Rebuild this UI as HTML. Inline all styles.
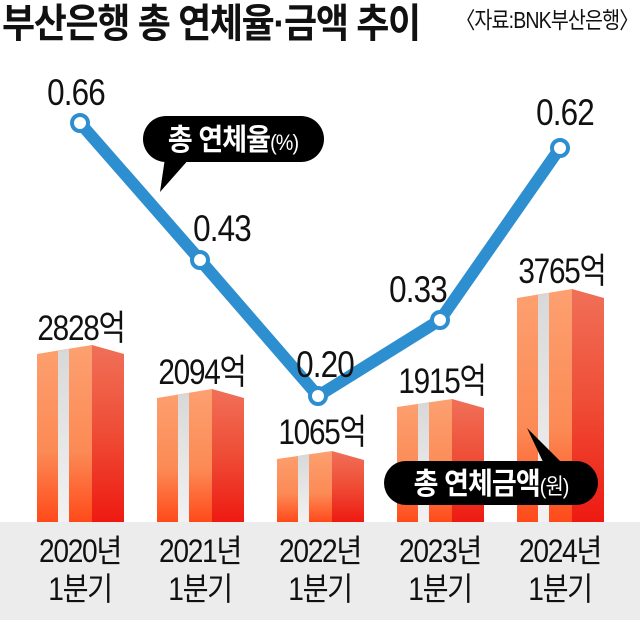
<!DOCTYPE html>
<html><head><meta charset="utf-8"><style>
html,body{margin:0;padding:0;background:#fff;}
svg{display:block;}
text{font-family:"Liberation Sans","Noto Sans CJK KR",sans-serif;}
</style></head><body>
<svg width="640" height="620" viewBox="0 0 640 620" xmlns="http://www.w3.org/2000/svg">
<defs>
<linearGradient id="gl" x1="0" y1="0" x2="0" y2="1"><stop offset="0" stop-color="#fda070"/><stop offset="0.6" stop-color="#fc8a55"/><stop offset="1" stop-color="#ff4a1a"/></linearGradient>
<linearGradient id="gr" x1="0" y1="0" x2="0" y2="1"><stop offset="0" stop-color="#f07058"/><stop offset="0.5" stop-color="#ef4c35"/><stop offset="1" stop-color="#ee1a12"/></linearGradient>
<linearGradient id="gs" x1="0" y1="0" x2="0" y2="1"><stop offset="0" stop-color="#d8d8d8"/><stop offset="1" stop-color="#f2f2f2"/></linearGradient>
</defs>
<text transform="translate(2,37) scale(0.9,1)" font-size="40" font-weight="bold" fill="#111" letter-spacing="-1.5">부산은행 총 연체율·금액 추이</text>
<text transform="translate(638,28) scale(0.85,1)" font-size="23" fill="#111" text-anchor="end" letter-spacing="-1">〈자료:BNK부산은행〉</text>
<rect x="0" y="522" width="640" height="98" fill="#ececec"/>
<g>
<polygon points="37,354 92,345 92,522 37,522" fill="url(#gl)"/><polygon points="92,345 124,354 124,522 92,522" fill="url(#gr)"/><polygon points="58,351 69,349 69,522 58,522" fill="url(#gs)"/>
<polygon points="157,398 212,389 212,522 157,522" fill="url(#gl)"/><polygon points="212,389 244,398 244,522 212,522" fill="url(#gr)"/><polygon points="178,395 189,393 189,522 178,522" fill="url(#gs)"/>
<polygon points="277,459 332,451 332,522 277,522" fill="url(#gl)"/><polygon points="332,451 364,460 364,522 332,522" fill="url(#gr)"/><polygon points="298,456 309,454 309,522 298,522" fill="url(#gs)"/>
<polygon points="397,407 452,399 452,522 397,522" fill="url(#gl)"/><polygon points="452,399 484,408 484,522 452,522" fill="url(#gr)"/><polygon points="418,404 429,402 429,522 418,522" fill="url(#gs)"/>
<polygon points="517,298 572,289 572,522 517,522" fill="url(#gl)"/><polygon points="572,289 604,298 604,522 572,522" fill="url(#gr)"/><polygon points="538,295 549,293 549,522 538,522" fill="url(#gs)"/>
</g>
<g font-size="35" fill="#111" text-anchor="middle" letter-spacing="-1.5">
<text transform="translate(81,340) scale(0.85,1)">2828억</text>
<text transform="translate(202,384) scale(0.85,1)">2094억</text>
<text transform="translate(322,444) scale(0.85,1)">1065억</text>
<text transform="translate(442,393) scale(0.85,1)">1915억</text>
<text transform="translate(562,283) scale(0.85,1)">3765억</text>
</g>
<polyline points="80,123 200,260 318,396 440,320 560,148" fill="none" stroke="#2e8fd0" stroke-width="12" stroke-linejoin="miter"/>
<g fill="#fff" stroke="#2e8fd0" stroke-width="4">
<circle cx="80" cy="123" r="8"/><circle cx="200" cy="260" r="8"/><circle cx="318" cy="396" r="8"/><circle cx="440" cy="320" r="8"/><circle cx="560" cy="148" r="8"/>
</g>
<g font-size="37" fill="#111" text-anchor="middle" letter-spacing="-1">
<text transform="translate(76,105) scale(0.85,1)">0.66</text>
<text transform="translate(222,241) scale(0.85,1)">0.43</text>
<text transform="translate(325,377) scale(0.85,1)">0.20</text>
<text transform="translate(418,302) scale(0.85,1)">0.33</text>
<text transform="translate(565,125) scale(0.85,1)">0.62</text>
</g>
<path d="M165,158 L160,192 L190,158 Z" fill="#000"/>
<rect x="143" y="116" width="181" height="46" rx="23" fill="#000"/>
<text transform="translate(233,150) scale(0.9,1)" font-size="30" fill="#fff" text-anchor="middle" font-weight="bold" letter-spacing="-1">총 연체율<tspan font-size="22" font-weight="normal">(%)</tspan></text>
<path d="M527,428 L545,466 L565,466 Z" fill="#000"/>
<rect x="384" y="461" width="214" height="44" rx="22" fill="#000"/>
<text transform="translate(491,494) scale(0.9,1)" font-size="30" fill="#fff" text-anchor="middle" font-weight="bold" letter-spacing="-1">총 연체금액<tspan font-size="22" font-weight="normal">(원)</tspan></text>
<g font-size="32" fill="#111" text-anchor="middle" letter-spacing="-1.5">
<text transform="translate(80,562) scale(0.88,1)">2020년</text><text transform="translate(80,600) scale(0.88,1)">1분기</text>
<text transform="translate(200,562) scale(0.88,1)">2021년</text><text transform="translate(200,600) scale(0.88,1)">1분기</text>
<text transform="translate(320,562) scale(0.88,1)">2022년</text><text transform="translate(320,600) scale(0.88,1)">1분기</text>
<text transform="translate(440,562) scale(0.88,1)">2023년</text><text transform="translate(440,600) scale(0.88,1)">1분기</text>
<text transform="translate(560,562) scale(0.88,1)">2024년</text><text transform="translate(560,600) scale(0.88,1)">1분기</text>
</g>
</svg>
</body></html>
